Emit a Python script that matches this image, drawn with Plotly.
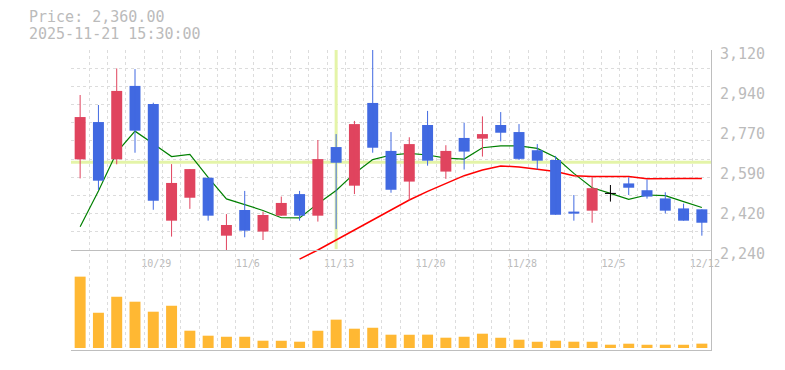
import plotly.graph_objects as go

# ---------------- data ----------------
dates = ["10/23", "10/24", "10/27", "10/28", "10/29", "10/30", "10/31", "11/4", "11/5", "11/6",
         "11/7", "11/10", "11/11", "11/12", "11/13", "11/14", "11/17", "11/18", "11/19", "11/20",
         "11/21", "11/25", "11/26", "11/27", "11/28", "12/1", "12/2", "12/3", "12/4", "12/5",
         "12/8", "12/9", "12/10", "12/11", "12/12"]
opens = [2639, 2803, 2639, 2962, 2882, 2369, 2470, 2558, 2303, 2416,
         2321, 2391, 2486, 2391, 2693, 2523, 2887, 2676, 2541, 2790,
         2585, 2733, 2730, 2790, 2759, 2679, 2636, 2409, 2413, 2489,
         2533, 2503, 2467, 2423, 2419]
highs = [2922, 2878, 3039, 3036, 2888, 2618, 2596, 2558, 2398, 2500,
         2409, 2475, 2500, 2724, 2750, 2808, 3120, 2759, 2736, 2852,
         2701, 2800, 2828, 2847, 2794, 2706, 2654, 2482, 2562, 2526,
         2560, 2550, 2494, 2444, 2419]
lows = [2555, 2504, 2617, 2668, 2417, 2299, 2421, 2369, 2240, 2296,
        2284, 2391, 2369, 2365, 2332, 2486, 2668, 2492, 2458, 2611,
        2553, 2594, 2651, 2718, 2636, 2595, 2395, 2369, 2360, 2453,
        2482, 2466, 2401, 2369, 2303]
closes = [2825, 2545, 2940, 2765, 2457, 2535, 2596, 2391, 2350, 2325,
          2394, 2447, 2391, 2640, 2624, 2794, 2690, 2505, 2706, 2633,
          2676, 2673, 2750, 2756, 2641, 2633, 2395, 2400, 2512, 2489,
          2514, 2475, 2413, 2369, 2360]
volumes = [142700, 70500, 102500, 92600, 72600, 84500, 34600, 24600, 22500, 22500,
           14600, 14500, 12600, 34500, 56700, 38600, 40500, 26600, 26500, 26700,
           20600, 22500, 28600, 20500, 16600, 12500, 14600, 12600, 12500, 6600,
           8600, 6500, 6600, 6500, 8700]
ma5 = [2342, 2500, 2670, 2763, 2707, 2651, 2661, 2560, 2465, 2441,
       2414, 2382, 2381, 2444, 2502, 2577, 2638, 2658, 2665, 2658,
       2644, 2640, 2690, 2698, 2698, 2687, 2648, 2577, 2514, 2489,
       2463, 2482, 2479, 2453, 2427]
ma25 = [None] * 12 + [2200, 2240, 2284, 2328, 2372, 2413, 2460, 2498, 2533, 2567,
                      2592, 2610, 2605, 2596, 2585, 2567, 2563, 2563, 2563, 2553,
                      2555, 2555, 2555]

price_ticks = [2240, 2416, 2592, 2768, 2944, 3120]
price_tick_labels = ["2,240", "2,420", "2,590", "2,770", "2,940", "3,120"]
date_tick_idx = [4, 9, 14, 19, 24, 29, 34]
crosshair_idx = 14
crosshair_price = 2626
crosshair_low = 2244
title_lines = ["Price: 2,360.00", "2025-11-21 15:30:00"]

# ---------------- styles ----------------
UP = "#E0445E"
DOWN = "#4169E1"
DOJI = "#000000"
VOL = "#FFB833"
GRID = "#DCDCDC"
AXIS = "#BEBEBE"
TEXT = "#BBBBBB"
FONT = "DejaVu Sans Mono"
CROSS = "#E4F4A8"

n = len(dates)
idx = list(range(n))
p_min, p_max = 2196, 3120
half = 0.3

fig = go.Figure()

# crosshair (base subplot, under candles)
fig.add_trace(go.Scatter(x=[crosshair_idx, crosshair_idx], y=[crosshair_low, p_max],
                         mode="lines", line=dict(color=CROSS, width=3),
                         hoverinfo="skip", xaxis="x", yaxis="y"))
fig.add_trace(go.Scatter(x=[-0.5, n - 0.5], y=[crosshair_price, crosshair_price],
                         mode="lines", line=dict(color=CROSS, width=3),
                         hoverinfo="skip", xaxis="x", yaxis="y"))

# moving averages (base subplot, under candles)
fig.add_trace(go.Scatter(x=idx, y=ma5, mode="lines", line=dict(color="#008000", width=1.2),
                         hoverinfo="skip", xaxis="x", yaxis="y"))
fig.add_trace(go.Scatter(x=idx, y=ma25, mode="lines", line=dict(color="#FF0000", width=1.5),
                         hoverinfo="skip", xaxis="x", yaxis="y"))

# candles (overlay subplot, drawn above)
body_base, body_h, body_col = [], [], []
for o, c in zip(opens, closes):
    body_base.append(min(o, c))
    body_h.append(abs(c - o))
    body_col.append(UP if c > o else (DOWN if c < o else DOJI))

fig.add_trace(go.Bar(x=idx, y=body_h, base=body_base, width=0.6,
                     marker=dict(color=body_col, line=dict(width=0)),
                     hoverinfo="skip", xaxis="x3", yaxis="y3"))

for col in (UP, DOWN, DOJI):
    wx, wy = [], []
    for i in idx:
        if body_col[i] == col:
            wx += [i, i, None]
            wy += [lows[i], highs[i], None]
            if col == DOJI:
                wx += [i - half, i + half, None]
                wy += [opens[i], opens[i], None]
    if wx:
        fig.add_trace(go.Scatter(x=wx, y=wy, mode="lines", line=dict(color=col, width=1),
                                 hoverinfo="skip", xaxis="x3", yaxis="y3"))

# volume
fig.add_trace(go.Bar(x=idx, y=volumes, width=0.6, marker=dict(color=VOL, line=dict(width=0)),
                     hoverinfo="skip", xaxis="x2", yaxis="y2"))

grid_common = dict(showgrid=True, gridcolor=GRID, gridwidth=1, griddash="3px,3px",
                   zeroline=False, ticks="", showticklabels=False)

fig.update_layout(
    width=785, height=370,
    margin=dict(l=71, r=74, t=50, b=20),
    paper_bgcolor="white", plot_bgcolor="white",
    showlegend=False, barmode="overlay", hovermode=False,
    xaxis=dict(domain=[0, 1], anchor="y", range=[-0.5, n - 0.5], tickmode="linear",
               tick0=-0.5, dtick=1, showline=False, **grid_common),
    yaxis=dict(domain=[0.3, 1], anchor="x", range=[p_min, p_max], tickmode="linear",
               tick0=2240, dtick=80, side="right", showline=True, linecolor=AXIS,
               linewidth=1, **grid_common),
    xaxis3=dict(overlaying="x", anchor="free", position=1 / 3, range=[-0.5, n - 0.5],
                tickmode="array", tickvals=date_tick_idx,
                ticktext=[dates[i] for i in date_tick_idx],
                showgrid=False, zeroline=False, ticks="", showline=True, linecolor=AXIS,
                linewidth=1, tickfont=dict(family=FONT, size=10, color=TEXT),
                ticklabelshift=3, ticklabelstandoff=4),
    yaxis3=dict(overlaying="y", anchor="x3", side="right", range=[p_min, p_max],
                tickmode="array", tickvals=price_ticks, ticktext=price_tick_labels,
                showgrid=False, zeroline=False, ticks="", showline=False,
                tickfont=dict(family=FONT, size=15, color=TEXT),
                ticklabelstandoff=8, ticklabelshift=4),
    xaxis2=dict(domain=[0, 1], anchor="y2", range=[-0.5, n - 0.5], tickmode="linear",
                tick0=-0.5, dtick=1, showline=True, linecolor=AXIS, linewidth=1,
                **grid_common),
    yaxis2=dict(domain=[0, 0.3], anchor="x2", range=[-4000, 176000], side="right",
                showgrid=False, zeroline=False, ticks="", showticklabels=False,
                showline=True, linecolor=AXIS, linewidth=1),
    annotations=[
        dict(text=title_lines[0], xref="paper", yref="paper", x=-44 / 640, y=(350 - 16.5) / 300,
             xanchor="left", yanchor="middle", showarrow=False,
             font=dict(family=FONT, size=15, color=TEXT)),
        dict(text=title_lines[1], xref="paper", yref="paper", x=-44 / 640, y=(350 - 34) / 300,
             xanchor="left", yanchor="middle", showarrow=False,
             font=dict(family=FONT, size=15, color=TEXT)),
    ],
)

fig.write_html("out.html", config={"displayModeBar": False, "staticPlot": True},
               post_script="document.body.style.margin='0';")
